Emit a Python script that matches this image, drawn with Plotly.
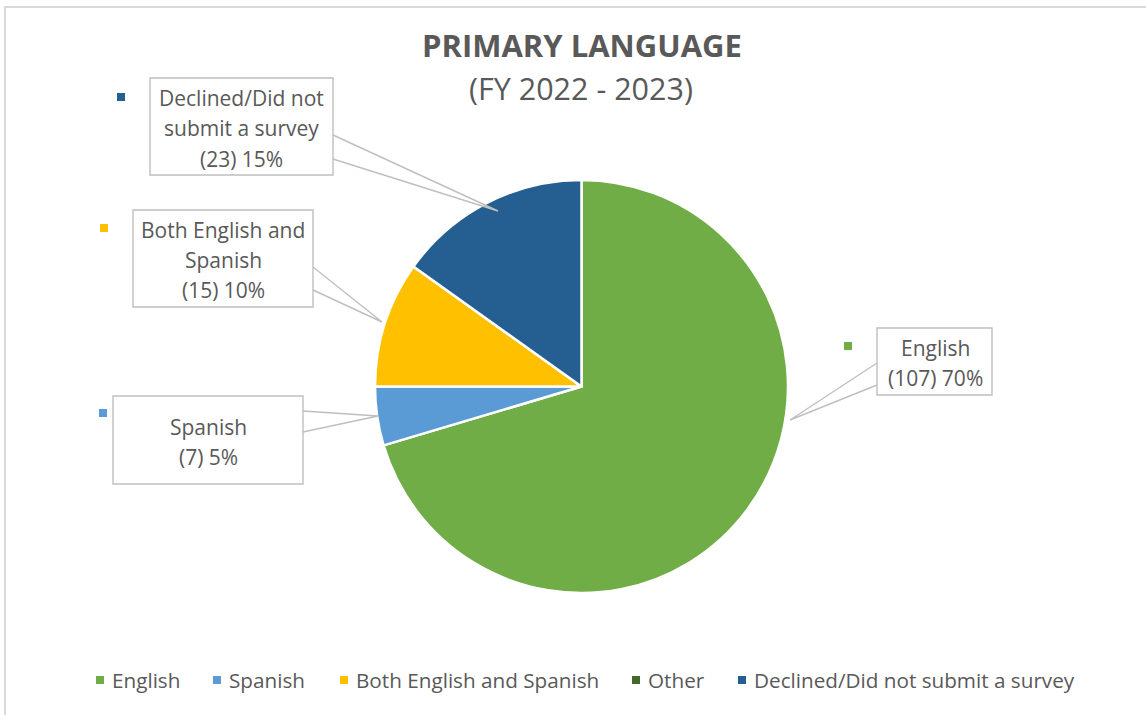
import plotly.graph_objects as go

W, H = 1146, 715

categories = ["English", "Spanish", "Both English and Spanish", "Other", "Declined/Did not submit a survey"]
counts = [107, 7, 15, 0, 23]
percent_labels = ["70%", "5%", "10%", "0%", "15%"]
colors = ["#70AD47", "#5B9BD5", "#FFC000", "#43682B", "#255E91"]

title_text = "PRIMARY LANGUAGE"
subtitle_text = "(FY 2022 - 2023)"

# label callout layout (pixels): box, text line centres, leader tip, key marker
callouts = {
    "English": dict(lines=["English"], box=(877, 328, 992, 395), cx=935, ys=[348, 378],
                    lead=(363, 385), tip=(790, 420), key=(848, 346)),
    "Spanish": dict(lines=["Spanish"], box=(113, 396, 303, 484), cx=208, ys=[427, 457],
                    lead=(411, 432), tip=(378, 416), key=(103, 413)),
    "Both English and Spanish": dict(lines=["Both English and", "Spanish"], box=(133, 210, 313, 307), cx=223,
                    ys=[230, 260, 290], lead=(267, 290), tip=(382, 322), key=(104, 228)),
    "Declined/Did not submit a survey": dict(lines=["Declined/Did not", "submit a survey"], box=(150, 78, 333, 175),
                    cx=241, ys=[98, 128, 159], lead=(135, 159), tip=(498, 211), key=(121, 97)),
}
# legend layout (pixels): centre of key square for each item, row centre
legend_x = [100, 217, 344, 636, 742]
legend_y = 680

def px(x):
    return x / W

def py(y):
    return 1 - y / H

FONT = "Open Sans, Segoe UI, sans-serif"
GRAY = "#595959"

# pie circle in pixels
pcx, pcy, pr = 581.5, 386.5, 206.5

fig = go.Figure()
fig.add_trace(go.Pie(
    labels=categories, values=counts, sort=False, direction="clockwise", rotation=0,
    marker=dict(colors=colors, line=dict(color="white", width=2.5)),
    textinfo="none", hoverinfo="label+value+percent", showlegend=False,
    domain=dict(x=[px(pcx - pr), px(pcx + pr)], y=[py(pcy + pr), py(pcy - pr)]),
))

shapes = []
annotations = []
# chart border
shapes.append(dict(type="rect", xref="paper", yref="paper", x0=px(5), x1=px(1160), y0=py(730), y1=py(7),
                   line=dict(color="#D9D9D9", width=2), fillcolor="rgba(0,0,0,0)"))

for i, cat in enumerate(categories):
    if cat not in callouts:
        continue
    c = callouts[cat]
    x0, y0, x1, y1 = c["box"]
    right_side = x0 > pcx
    ex = x0 if right_side else x1
    la, lb = c["lead"]
    tx, ty = c["tip"]
    path = f"M {px(ex)} {py(la)} L {px(tx)} {py(ty)} L {px(ex)} {py(lb)}"
    shapes.append(dict(type="path", xref="paper", yref="paper", path=path,
                       line=dict(color="#BFBFBF", width=1.4)))
    shapes.append(dict(type="rect", xref="paper", yref="paper", x0=px(x0), x1=px(x1), y0=py(y1), y1=py(y0),
                       line=dict(color="#BFBFBF", width=1.4), fillcolor="white"))
    lines = c["lines"] + [f"({counts[i]}) {percent_labels[i]}"]
    for t, yy in zip(lines, c["ys"]):
        annotations.append(dict(text=t, x=px(c["cx"]), y=py(yy), xref="paper", yref="paper",
                                showarrow=False, xanchor="center", yanchor="middle",
                                font=dict(family=FONT, size=21, color=GRAY)))
    kx, ky = c["key"]
    shapes.append(dict(type="rect", xref="paper", yref="paper", x0=px(kx - 4), x1=px(kx + 4),
                       y0=py(ky + 4), y1=py(ky - 4), line=dict(width=0), fillcolor=colors[i]))

# custom legend
for i, cat in enumerate(categories):
    lx = legend_x[i]
    shapes.append(dict(type="rect", xref="paper", yref="paper", x0=px(lx - 4), x1=px(lx + 4),
                       y0=py(legend_y + 4), y1=py(legend_y - 4), line=dict(width=0), fillcolor=colors[i]))
    annotations.append(dict(text=cat, x=px(lx + 10), y=py(legend_y), xref="paper", yref="paper",
                            showarrow=False, xanchor="left", yanchor="middle",
                            font=dict(family=FONT, size=20.7, color=GRAY)))

annotations.append(dict(text=f"<b>{title_text}</b>", x=px(582), y=py(45), xref="paper", yref="paper",
                        showarrow=False, xanchor="center", yanchor="middle",
                        font=dict(family=FONT, size=31, color=GRAY)))
annotations.append(dict(text=subtitle_text, x=px(581), y=py(88), xref="paper", yref="paper",
                        showarrow=False, xanchor="center", yanchor="middle",
                        font=dict(family=FONT, size=30.5, color=GRAY)))

fig.update_layout(
    width=W, height=H, margin=dict(l=0, r=0, t=0, b=0),
    paper_bgcolor="white", plot_bgcolor="white",
    shapes=shapes, annotations=annotations,
    showlegend=False,
)

fig.write_html("out.html", config={"displayModeBar": False},
               post_script="document.body.style.margin='0';document.body.style.overflow='hidden';")
